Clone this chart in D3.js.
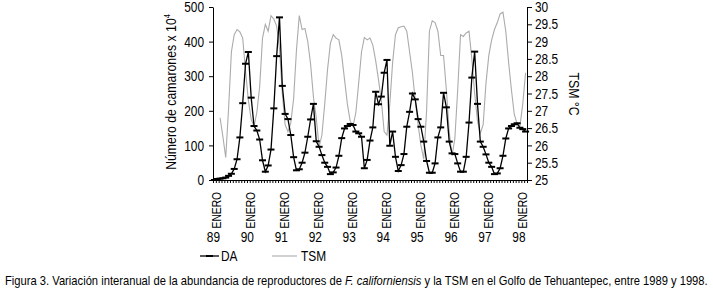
<!DOCTYPE html>
<html>
<head>
<meta charset="utf-8">
<script src="https://cdn.jsdelivr.net/npm/d3@7"></script>
<style>
  body { margin: 0; background: #fff; }
  svg text { font-family: "Liberation Sans", Arial, sans-serif; fill: #000; }
</style>
</head>
<body>
<svg width="713" height="289"></svg>
<script>
// monthly series, Jan 1989 .. Mar 1998
const monthCount = 111;
const yearLabels = ["89", "90", "91", "92", "93", "94", "95", "96", "97", "98"];

// DA: numero de camarones x 10^4
const daValues = [
  0, 3, 4, 5, 7, 12, 18, 32, 60, 123, 222, 336,
  370, 238, 156, 143, 117, 57, 24, 42, 88, 207, 358, 470,
  272, 191, 176, 130, 66, 28, 31, 50, 79, 125, 175, 220,
  112, 96, 72, 50, 38, 17, 22, 36, 70, 121, 149, 156,
  162, 159, 140, 135, 125, 34, 58, 114, 152, 255, 219, 241,
  310, 347, 99, 140, 67, 26, 43, 75, 154, 197, 250, 233,
  176, 154, 111, 55, 21, 21, 48, 123, 152, 252, 210, 111,
  77, 75, 48, 24, 24, 67, 166, 296, 371, 220, 111, 96,
  74, 50, 38, 17, 19, 34, 70, 120, 149, 156, 161, 164,
  151, 147, 140
];

// TSM (sea surface temperature, C), starts in March 1989
const tsmStart = 2;
const tsmValues = [
  26.8, 26.25, 25.65, 27.05, 28.7, 29.2, 29.35, 29.28, 29.1, 28.15,
  27.3, 26.75, 26.55, 26.95, 27.7, 29.1, 29.5, 29.3, 29.75, 29.65, 29.45, 28.8,
  27.5, 26.6, 26.4, 26.65, 27.35, 28.75, 29.75, 29.35, 29.38, 29.0, 28.35, 27.4,
  26.8, 25.95, 26.3, 27.2, 28.2, 28.95, 29.2, 29.1, 29.05, 28.6, 27.9, 27.2,
  26.7, 26.55, 26.95, 27.8, 28.7, 29.12, 29.05, 29.1, 28.9, 28.45, 27.9, 27.3,
  26.4, 26.3, 27.2, 28.4, 29.2, 29.4, 29.43, 29.45, 29.3, 28.7, 28.1, 27.3,
  26.6, 26.0, 25.6, 27.0, 29.3, 29.6, 29.55, 29.3, 28.6, 28.6, 27.6, 26.4,
  25.7, 26.2, 27.6, 29.2, 29.15, 29.25, 29.3, 28.5, 27.5, 26.7, 26.35, 26.6,
  27.8, 28.6, 29.05, 29.35, 29.55, 29.8, 29.85, 29.3, 28.4, 27.6, 26.9, 26.62,
  26.55, 27.2, 28.1
];

const leftTicks = [0, 100, 200, 300, 400, 500];
const rightTicks = [25, 25.5, 26, 26.5, 27, 27.5, 28, 28.5, 29, 29.5, 30];

const svg = d3.select("svg");
const plot = { left: 213, right: 527, top: 7, bottom: 180 };
const NARROW = 0.82;

// place a text at (px, py) and squeeze it horizontally like a narrow typeface
function placeNarrow(sel, px, py, rotate = 0, factor = NARROW) {
  sel.attr("x", null).attr("y", null)
    .attr("transform", `translate(${px},${py}) rotate(${rotate}) scale(${factor},1)`);
}

const x = d3.scaleBand().domain(d3.range(monthCount)).range([plot.left, plot.right]);
const xEdge = d3.scaleLinear().domain([0, monthCount]).range([plot.left, plot.right]);
const cx = i => x(i) + x.bandwidth() / 2;
const yLeft = d3.scaleLinear().domain([0, 500]).range([plot.bottom, plot.top]);
const yRight = d3.scaleLinear().domain([25, 30]).range([plot.bottom, plot.top]);

// TSM line (gray, drawn under DA)
const tsmData = tsmValues.map((v, k) => ({ i: k + tsmStart, v }));
svg.append("path")
  .datum(tsmData)
  .attr("fill", "none")
  .attr("stroke", "#ababab")
  .attr("stroke-width", 1.1)
  .attr("d", d3.line().x(d => cx(d.i)).y(d => yRight(d.v)));

// DA line with dash markers
const daData = daValues.map((v, i) => ({ i, v }));
svg.append("path")
  .datum(daData)
  .attr("fill", "none")
  .attr("stroke", "#000")
  .attr("stroke-width", 1.3)
  .attr("d", d3.line().x(d => cx(d.i)).y(d => yLeft(d.v)));

svg.append("g").selectAll("rect")
  .data(daData)
  .join("rect")
  .attr("x", d => cx(d.i) - 3.5)
  .attr("y", d => yLeft(d.v) - 1)
  .attr("width", 7)
  .attr("height", 2)
  .attr("fill", "#000");

// left axis
svg.append("g")
  .attr("transform", `translate(${plot.left},0)`)
  .call(d3.axisLeft(yLeft).tickValues(leftTicks).tickSize(4).tickSizeOuter(0).tickPadding(5))
  .call(g => g.attr("font-family", null))
  .call(g => g.selectAll("text").attr("font-size", 14.5).each(function () {
    placeNarrow(d3.select(this), -9, 0);
  }));

// right axis
svg.append("g")
  .attr("transform", `translate(${plot.right},0)`)
  .call(d3.axisRight(yRight).tickValues(rightTicks).tickSize(5).tickSizeOuter(0).tickPadding(3).tickFormat(d => d))
  .call(g => g.attr("font-family", null))
  .call(g => g.selectAll("text").attr("font-size", 14.5).each(function () {
    placeNarrow(d3.select(this), 8, 0);
  }));

// bottom axis: a small tick between every month
svg.append("g")
  .attr("transform", `translate(0,${plot.bottom})`)
  .call(d3.axisBottom(xEdge).tickValues(d3.range(monthCount + 1)).tickSize(3).tickSizeOuter(0).tickFormat(""));

// year labels: ENERO rotated, year below
yearLabels.forEach((yr, j) => {
  const px = cx(j * 12);
  svg.append("text")
    .attr("text-anchor", "end")
    .attr("font-size", 12.5)
    .text("ENERO")
    .call(placeNarrow, px + 7, 192, -90);
  svg.append("text")
    .attr("text-anchor", "middle")
    .attr("font-size", 14.5)
    .text(yr)
    .call(placeNarrow, px - 1, 242);
});

// axis titles
const leftTitle = svg.append("text")
  .attr("text-anchor", "middle")
  .attr("font-size", 15)
  .call(placeNarrow, 176, 92, -90);
leftTitle.append("tspan").text("Número de camarones x 10");
leftTitle.append("tspan").attr("font-size", 9).attr("dy", -6).text("4");

svg.append("text")
  .attr("text-anchor", "middle")
  .attr("font-size", 15)
  .text("TSM °C")
  .call(placeNarrow, 569, 94, 90);

// legend
const legend = svg.append("g");
legend.append("line")
  .attr("x1", 200).attr("x2", 219).attr("y1", 256).attr("y2", 256)
  .attr("stroke", "#000").attr("stroke-width", 1.3);
legend.append("rect")
  .attr("x", 206).attr("y", 255).attr("width", 7).attr("height", 2).attr("fill", "#000");
legend.append("text").attr("font-size", 14.5).text("DA").call(placeNarrow, 221, 261);
legend.append("line")
  .attr("x1", 272).attr("x2", 297).attr("y1", 256).attr("y2", 256)
  .attr("stroke", "#ababab").attr("stroke-width", 1.1);
legend.append("text").attr("font-size", 14.5).text("TSM").call(placeNarrow, 301, 261);

// caption, squeezed to the width it has in the figure
const caption = svg.append("text").attr("font-size", 13);
caption.append("tspan").text("Figura 3. Variación interanual de la abundancia de reproductores de ");
caption.append("tspan").attr("font-style", "italic").text("F. californiensis");
caption.append("tspan").text(" y la TSM en el Golfo de Tehuantepec, entre 1989 y 1998.");
const capLen = caption.node().getComputedTextLength();
caption.call(placeNarrow, 5, 285, 0, 703 / capLen);
</script>
</body>
</html>
